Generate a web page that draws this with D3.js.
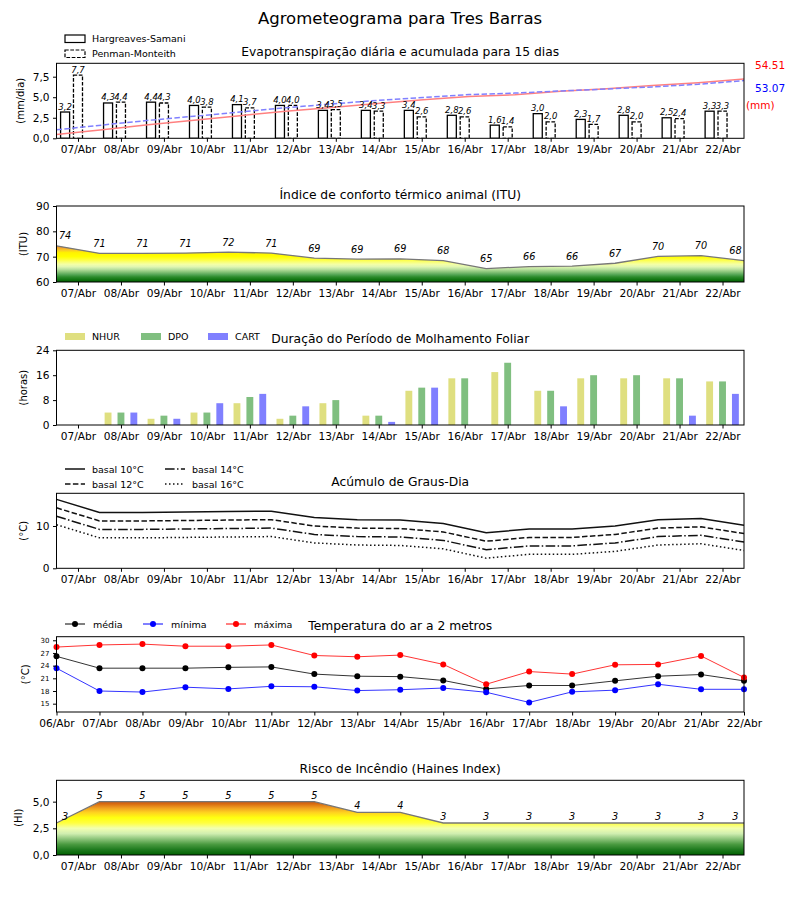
<!DOCTYPE html>
<html>
<head>
<meta charset="utf-8">
<script src="https://cdn.jsdelivr.net/npm/d3@7"></script>
<style>
body { margin: 0; background: #fff; }
svg text { font-family: "DejaVu Sans", sans-serif; fill: #000; }
</style>
</head>
<body>
<div id="chart"></div>
<script>
// datas
var dias = ['07/Abr', '08/Abr', '09/Abr', '10/Abr', '11/Abr', '12/Abr', '13/Abr', '14/Abr',
  '15/Abr', '16/Abr', '17/Abr', '18/Abr', '19/Abr', '20/Abr', '21/Abr', '22/Abr'];
var diasTemp = ['06/Abr', '07/Abr', '08/Abr', '09/Abr', '10/Abr', '11/Abr', '12/Abr', '13/Abr', '14/Abr',
  '15/Abr', '16/Abr', '17/Abr', '18/Abr', '19/Abr', '20/Abr', '21/Abr', '22/Abr'];

// evapotranspiracao (mm/dia)
var etHS = [3.2, 4.3, 4.4, 4.0, 4.1, 4.0, 3.4, 3.4, 3.4, 2.8, 1.6, 3.0, 2.3, 2.8, 2.5, 3.3];
var etPM = [7.7, 4.4, 4.3, 3.8, 3.7, 4.0, 3.5, 3.3, 2.6, 2.6, 1.4, 2.0, 1.7, 2.0, 2.4, 3.3];
// acumulada (mm)
var acumHS = [3.6, 7.9, 12.4, 16.5, 20.8, 24.9, 28.4, 32.0, 35.5, 38.4, 40.1, 43.2, 45.6, 48.5, 51.1, 54.51];
var acumPM = [7.8, 12.2, 16.5, 20.3, 24.1, 28.1, 31.6, 34.9, 37.6, 40.2, 41.6, 43.6, 45.3, 47.3, 49.7, 53.07];
var totais = ['54.51', '53.07'];

// ITU
var itu = [74.3, 71.3, 71.3, 71.4, 71.8, 71.4, 69.4, 69.0, 69.1, 68.4, 65.3, 66.1, 66.3, 67.4, 70.1, 70.4, 68.4];

// molhamento foliar (horas)
var nhur = [0, 4, 2, 4, 7, 2, 7, 3, 11, 15, 17, 11, 15, 15, 15, 14];
var dpo = [0, 4, 3, 4, 9, 3, 8, 3, 12, 15, 20, 11, 16, 16, 15, 14];
var cart = [0, 4, 2, 7, 10, 6, 0, 1, 12, 0, 0, 6, 0, 0, 3, 10];

// graus-dia
var basal10 = [16.3, 13.2, 13.2, 13.3, 13.4, 13.5, 12.0, 11.5, 11.4, 10.6, 8.4, 9.3, 9.3, 10.0, 11.5, 11.8, 10.2];
var basal12 = [14.3, 11.2, 11.2, 11.3, 11.4, 11.5, 10.0, 9.5, 9.4, 8.6, 6.4, 7.3, 7.3, 8.0, 9.5, 9.8, 8.2];
var basal14 = [12.3, 9.2, 9.2, 9.3, 9.4, 9.5, 8.0, 7.5, 7.4, 6.6, 4.4, 5.3, 5.3, 6.0, 7.5, 7.8, 6.2];
var basal16 = [10.3, 7.2, 7.2, 7.3, 7.4, 7.5, 6.0, 5.5, 5.4, 4.6, 2.4, 3.3, 3.3, 4.0, 5.5, 5.8, 4.2];

// temperatura (C)
var tMedia = [26.2, 23.4, 23.4, 23.4, 23.6, 23.7, 22.0, 21.5, 21.4, 20.5, 18.5, 19.3, 19.3, 20.4, 21.5, 21.9, 20.4];
var tMin = [23.4, 18.0, 17.75, 18.9, 18.5, 19.1, 19.0, 18.1, 18.3, 18.7, 17.7, 15.3, 17.8, 18.2, 19.6, 18.4, 18.4];
var tMax = [28.4, 28.9, 29.1, 28.6, 28.6, 28.9, 26.4, 26.1, 26.5, 24.3, 19.6, 22.6, 22.0, 24.2, 24.3, 26.3, 21.2];

// haines
var haines = [3, 5, 5, 5, 5, 5, 5, 4, 4, 3, 3, 3, 3, 3, 3, 3, 3];

var svgWidth = 800;
var svgHeight = 900;
var left = 56.5, right = 744;

var svg = d3.select('#chart').append('svg')
  .attr('width', svgWidth)
  .attr('height', svgHeight);
var defs = svg.append('defs');

var x = d3.scaleLinear().domain([-0.5, 15.5]).range([left, right]);
var comma = d => d3.format('.1f')(d).replace('.', ',');

svg.append('text')
  .attr('x', 400).attr('y', 24)
  .attr('text-anchor', 'middle')
  .attr('font-size', '16.5px')
  .text('Agrometeograma para Tres Barras');

// builds an axes box
function panel(id, top, bottom, ydom, title, ylabel, ylabelX) {
  var y = d3.scaleLinear().domain(ydom).range([bottom, top]);
  var g = svg.append('g');
  defs.append('clipPath').attr('id', 'clip' + id)
    .append('rect').attr('x', left).attr('y', top)
    .attr('width', right - left).attr('height', bottom - top);
  var plot = g.append('g').attr('clip-path', `url(#clip${id})`);
  g.append('text')
    .attr('x', (left + right) / 2).attr('y', top - 7)
    .attr('text-anchor', 'middle')
    .attr('font-size', '12.3px')
    .text(title);
  g.append('text')
    .attr('transform', `translate(${ylabelX}, ${(top + bottom) / 2}) rotate(-90)`)
    .attr('text-anchor', 'middle')
    .attr('dy', '0.35em')
    .attr('font-size', '10px')
    .text(ylabel);
  return { id: id, g: g, plot: plot, y: y, top: top, bottom: bottom };
}

function axes(p, xTicks, xLabels, yTicks, yFmt, yFont) {
  var bottomAxis = d3.axisBottom(x)
    .tickValues(xTicks)
    .tickFormat((d, i) => xLabels[i])
    .tickSize(3.5).tickPadding(3.5).tickSizeOuter(0);
  var ax = p.g.append('g')
    .attr('transform', `translate(0, ${p.bottom})`)
    .call(bottomAxis);
  ax.select('.domain').remove();
  ax.selectAll('text').attr('font-size', '10.6px').attr('font-family', '"DejaVu Sans", sans-serif').attr('fill', '#000');
  ax.selectAll('line').attr('stroke', '#000');

  var leftAxis = d3.axisLeft(p.y)
    .tickValues(yTicks)
    .tickFormat(yFmt)
    .tickSize(3.5).tickPadding(3.5).tickSizeOuter(0);
  var ay = p.g.append('g')
    .attr('transform', `translate(${left}, 0)`)
    .call(leftAxis);
  ay.select('.domain').remove();
  ay.selectAll('text').attr('font-size', yFont || '10.6px').attr('font-family', '"DejaVu Sans", sans-serif').attr('fill', '#000');
  ay.selectAll('line').attr('stroke', '#000');

  p.g.append('rect')
    .attr('x', left).attr('y', p.top)
    .attr('width', right - left).attr('height', p.bottom - p.top)
    .attr('fill', 'none').attr('stroke', '#000').attr('stroke-width', 1);
}

function gradient(id, p, stops) {
  var lg = defs.append('linearGradient')
    .attr('id', id)
    .attr('gradientUnits', 'userSpaceOnUse')
    .attr('x1', 0).attr('x2', 0)
    .attr('y1', p.y(stops[0][0])).attr('y2', p.y(stops[stops.length - 1][0]));
  var v0 = stops[0][0], v1 = stops[stops.length - 1][0];
  stops.forEach(function(s) {
    lg.append('stop').attr('offset', (s[0] - v0) / (v1 - v0)).attr('stop-color', s[1]);
  });
}

var idx = d3.range(16);
var idxHalf = d3.range(17).map(i => i - 0.5);

// ---------- painel 1: evapotranspiracao
var p1 = panel(1, 63.3, 138.3, [0, 9.13], 'Evapotranspiração diária e acumulada para 15 dias', '(mm/dia)', 20);
var bw = 0.21 * (x(1) - x(0));

p1.plot.selectAll('.hs').data(etHS).enter().append('rect')
  .attr('x', (d, i) => x(i - 0.3) - bw / 2)
  .attr('y', d => p1.y(d))
  .attr('width', bw)
  .attr('height', d => p1.y(0) - p1.y(d))
  .attr('fill', '#fff').attr('stroke', '#000').attr('stroke-width', 1.3);
p1.plot.selectAll('.pm').data(etPM).enter().append('rect')
  .attr('x', (d, i) => x(i) - bw / 2)
  .attr('y', d => p1.y(d))
  .attr('width', bw)
  .attr('height', d => p1.y(0) - p1.y(d))
  .attr('fill', '#fff').attr('stroke', '#000').attr('stroke-width', 1.3)
  .attr('stroke-dasharray', '3.7,1.6');

p1.g.selectAll('.hsl').data(etHS).enter().append('text')
  .attr('x', (d, i) => x(i - 0.3))
  .attr('y', d => p1.y(d) - 2.5)
  .attr('text-anchor', 'middle').attr('font-size', '8.5px').attr('font-style', 'italic')
  .text(d => comma(d));
p1.g.selectAll('.pml').data(etPM).enter().append('text')
  .attr('x', (d, i) => x(i))
  .attr('y', d => p1.y(d) - 2.5)
  .attr('text-anchor', 'middle').attr('font-size', '8.5px').attr('font-style', 'italic')
  .text(d => comma(d));

// acumulada em eixo secundario oculto
var y2 = d3.scaleLinear().domain([0, 69]).range([p1.bottom, p1.top]);
var xAcum = d3.scaleLinear().domain([0, 15]).range([left, right]);
var acumLine = d3.line().x((d, i) => xAcum(i)).y(d => y2(d));
p1.plot.append('path').datum(acumHS).attr('d', acumLine)
  .attr('fill', 'none').attr('stroke', '#ff8080').attr('stroke-width', 1.5);
p1.plot.append('path').datum(acumPM).attr('d', acumLine)
  .attr('fill', 'none').attr('stroke', '#8080ff').attr('stroke-width', 1.5)
  .attr('stroke-dasharray', '5.5,2.4');

svg.append('text').attr('x', 755).attr('y', 69).attr('font-size', '10.5px').style('fill', '#ff0000').text(totais[0]);
svg.append('text').attr('x', 755).attr('y', 92).attr('font-size', '10.5px').style('fill', '#0000ff').text(totais[1]);
svg.append('text').attr('x', 746).attr('y', 109).attr('font-size', '10.5px').style('fill', '#ff0000').text('(mm)');

axes(p1, idx, dias, [0, 2.5, 5, 7.5], comma);

// legenda 1
svg.append('rect').attr('x', 65).attr('y', 35).attr('width', 20).attr('height', 7.5)
  .attr('fill', '#fff').attr('stroke', '#000').attr('stroke-width', 1.2);
svg.append('rect').attr('x', 65).attr('y', 50).attr('width', 20).attr('height', 7.5)
  .attr('fill', '#fff').attr('stroke', '#000').attr('stroke-width', 1.2).attr('stroke-dasharray', '3.7,1.6');
svg.append('text').attr('x', 92).attr('y', 42).attr('font-size', '9.5px').text('Hargreaves-Samani');
svg.append('text').attr('x', 92).attr('y', 57).attr('font-size', '9.5px').text('Penman-Monteith');

// ---------- painel 2: ITU
var p2 = panel(2, 206, 282, [60, 90], 'Índice de conforto térmico animal (ITU)', '(ITU)', 23);
gradient('gradITU', p2, [
  [60, '#005c00'], [61, '#137713'], [62, '#2d8c2d'], [63, '#58a858'], [64, '#8ac57a'],
  [65, '#b9e09e'], [66, '#e0f6b2'], [67, '#f4ffa6'], [68, '#faff6e'], [69, '#ffff30'],
  [70, '#ffff00'], [71.6, '#fff200'], [72.6, '#f8c828'], [73.6, '#f0a030'], [75, '#e8902a'], [90, '#e8902a']
]);
var ituArea = d3.area().x((d, i) => x(idxHalf[i])).y0(p2.y(60)).y1(d => p2.y(d));
var ituLine = d3.line().x((d, i) => x(idxHalf[i])).y(d => p2.y(d));
p2.plot.append('path').datum(itu).attr('d', ituArea).attr('fill', 'url(#gradITU)');
p2.plot.append('path').datum(itu).attr('d', ituLine)
  .attr('fill', 'none').attr('stroke', '#777').attr('stroke-width', 1.3);
p2.g.selectAll('.itul').data(itu).enter().append('text')
  .attr('x', (d, i) => x(Math.min(Math.max(idxHalf[i], -0.3), 15.3)))
  .attr('y', d => p2.y(d) - 6.5)
  .attr('text-anchor', 'middle').attr('font-size', '9.7px').attr('font-style', 'italic')
  .text(d => Math.round(d));
axes(p2, idx, dias, [60, 70, 80, 90], d3.format('d'));

// ---------- painel 3: molhamento foliar
var p3 = panel(3, 350.3, 425, [0, 24], 'Duração do Período de Molhamento Foliar', '(horas)', 23);
var bw3 = 0.16 * (x(1) - x(0));
[[nhur, -0.3, '#dfdf80'], [dpo, 0, '#80bf80'], [cart, 0.3, '#8080ff']].forEach(function(s) {
  p3.plot.selectAll(null).data(s[0]).enter().append('rect')
    .attr('x', (d, i) => x(i + s[1]) - bw3 / 2)
    .attr('y', d => p3.y(d))
    .attr('width', bw3)
    .attr('height', d => p3.y(0) - p3.y(d))
    .attr('fill', s[2]);
});
axes(p3, idx, dias, [0, 8, 16, 24], d3.format('d'));

var leg3 = [['NHUR', '#dfdf80', 65], ['DPO', '#80bf80', 141], ['CART', '#8080ff', 208]];
leg3.forEach(function(l) {
  svg.append('rect').attr('x', l[2]).attr('y', 333).attr('width', 20).attr('height', 7).attr('fill', l[1]);
  svg.append('text').attr('x', l[2] + 27).attr('y', 340).attr('font-size', '9.5px').text(l[0]);
});

// ---------- painel 4: graus-dia
var p4 = panel(4, 493.3, 568.3, [0, 17.73], 'Acúmulo de Graus-Dia', '(°C)', 23);
var gdLine = d3.line().x((d, i) => x(idxHalf[i])).y(d => p4.y(d));
var gdSeries = [
  [basal10, null, 'basal 10°C', 65, 469],
  [basal12, '5.5,2.4', 'basal 12°C', 65, 484],
  [basal14, '9.6,2.4,1.5,2.4', 'basal 14°C', 165, 469],
  [basal16, '1.5,2.5', 'basal 16°C', 165, 484]
];
gdSeries.forEach(function(s) {
  p4.plot.append('path').datum(s[0]).attr('d', gdLine)
    .attr('fill', 'none').attr('stroke', '#111').attr('stroke-width', 1.5)
    .attr('stroke-dasharray', s[1]);
  svg.append('line').attr('x1', s[3]).attr('x2', s[3] + 20).attr('y1', s[4]).attr('y2', s[4])
    .attr('stroke', '#111').attr('stroke-width', 1.5).attr('stroke-dasharray', s[1]);
  svg.append('text').attr('x', s[3] + 27).attr('y', s[4] + 3.5).attr('font-size', '9.5px').text(s[2]);
});
axes(p4, idx, dias, [0, 10], d3.format('d'));

// ---------- painel 5: temperatura
var p5 = panel(5, 636.7, 712, [13.03, 30.85], 'Temperatura do ar a 2 metros', '(°C)', 25);
var tLine = d3.line().x((d, i) => x(idxHalf[i])).y(d => p5.y(d));
var tSeries = [
  [tMedia, '#000', 'média', 65],
  [tMin, '#0000ff', 'mínima', 143],
  [tMax, '#ff0000', 'máxima', 226]
];
tSeries.forEach(function(s) {
  p5.plot.append('path').datum(s[0]).attr('d', tLine)
    .attr('fill', 'none').attr('stroke', s[1]).attr('stroke-width', 1).attr('stroke-opacity', 0.8);
  p5.g.selectAll(null).data(s[0]).enter().append('circle')
    .attr('cx', (d, i) => x(idxHalf[i]))
    .attr('cy', d => p5.y(d))
    .attr('r', 3).attr('fill', s[1]);
  svg.append('line').attr('x1', s[3]).attr('x2', s[3] + 20).attr('y1', 624).attr('y2', 624)
    .attr('stroke', s[1]).attr('stroke-width', 1);
  svg.append('circle').attr('cx', s[3] + 10).attr('cy', 624).attr('r', 3).attr('fill', s[1]);
  svg.append('text').attr('x', s[3] + 28).attr('y', 627.5).attr('font-size', '9.5px').text(s[2]);
});
axes(p5, idxHalf, diasTemp, [15, 18, 21, 24, 27, 30], d3.format('d'), '7px');

// ---------- painel 6: haines
var p6 = panel(6, 780.3, 855, [0, 7], 'Risco de Incêndio (Haines Index)', '(HI)', 18);
gradient('gradHI', p6, [
  [0, '#006000'], [0.5, '#1e7a1e'], [1.0, '#4a9a40'], [1.5, '#8cc47a'], [2.0, '#d0eeb0'],
  [2.5, '#f2ffb0'], [3.0, '#ffff40'], [3.5, '#ffff10'], [4.0, '#ffd020'], [4.4, '#f0a020'],
  [4.8, '#d86a10'], [5.0, '#c85a10'], [7.0, '#c85a10']
]);
var hiArea = d3.area().x((d, i) => x(idxHalf[i])).y0(p6.y(0)).y1(d => p6.y(d));
var hiLine = d3.line().x((d, i) => x(idxHalf[i])).y(d => p6.y(d));
p6.plot.append('path').datum(haines).attr('d', hiArea).attr('fill', 'url(#gradHI)');
p6.plot.append('path').datum(haines).attr('d', hiLine)
  .attr('fill', 'none').attr('stroke', '#777').attr('stroke-width', 1.3);
p6.g.selectAll('.hil').data(haines).enter().append('text')
  .attr('x', (d, i) => x(Math.min(Math.max(idxHalf[i], -0.3), 15.3)))
  .attr('y', d => p6.y(d) - 3)
  .attr('text-anchor', 'middle').attr('font-size', '9.7px').attr('font-style', 'italic')
  .text(d => d);
axes(p6, idx, dias, [0, 2.5, 5], comma);
</script>
</body>
</html>
